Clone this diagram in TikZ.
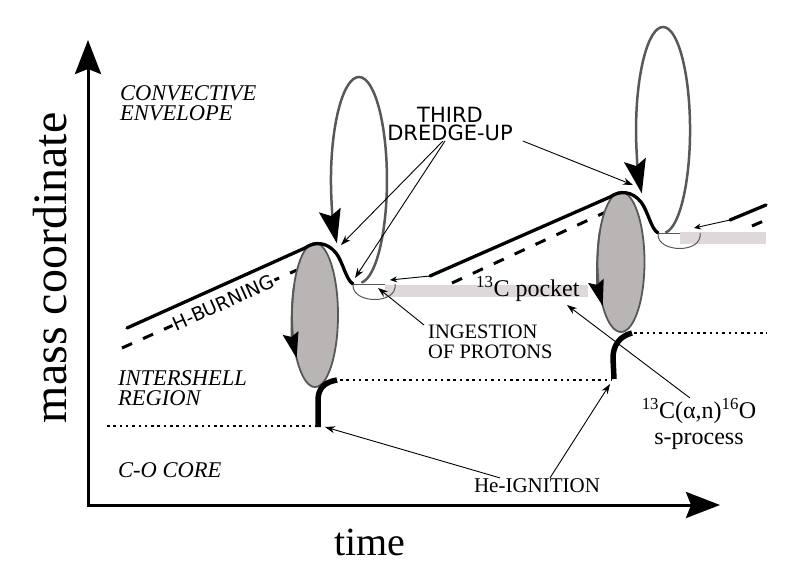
\documentclass[tikz,border=0pt]{standalone}
\usepackage{fontspec}
\setmainfont{Liberation Serif}
\newfontfamily\sansfont{DejaVu Sans}
\usetikzlibrary{arrows.meta}

\definecolor{loopgray}{RGB}{88,88,88}
\definecolor{pulsefill}{RGB}{186,181,181}
\definecolor{pocketgray}{RGB}{222,216,216}

\begin{document}
\begin{tikzpicture}[
    x=1pt, y=-1pt,
    axis/.style={line width=3pt, {Stealth[length=34pt,width=26pt,inset=5pt]}-{Stealth[length=34pt,width=26pt,inset=5pt]}},
    region/.style={font=\fontsize{22.5}{20.5}\selectfont\itshape, align=left, inner sep=0pt, anchor=north west},
    lbl/.style={font=\fontsize{21}{20}\selectfont, inner sep=0pt},
    sanslbl/.style={font=\sansfont\fontsize{21}{18}\selectfont, align=center, inner sep=0pt},
    shell/.style={line width=3.3pt, line cap=round, line join=round},
    hdash/.style={line width=3pt, dash pattern=on 11pt off 12pt},
    hedot/.style={line width=2.5pt, dash pattern=on 2.5pt off 3.8pt},
    ignite/.style={line width=5.5pt},
    pulse/.style={draw=loopgray, line width=1.8pt, fill=pulsefill},
    pulsearr/.style={draw=loopgray, line width=1.8pt, -{Stealth[length=26pt,width=16pt,inset=4pt,color=black]}},
    conv/.style={draw=loopgray, line width=2.5pt, -{Stealth[length=34pt,width=22pt,inset=6pt,color=black]}},
    mixloop/.style={draw=loopgray, line width=1pt},
    pointer/.style={line width=0.9pt, -{Stealth[length=10pt,width=7pt]}},
    pocket/.style={fill=pocketgray, draw=none}
]
\useasboundingbox (0,0) rectangle (793,564);

% ---- axes ----
\coordinate (ytip) at (88,40);
\coordinate (xtip) at (720,505);
\draw[axis] (ytip) |- (xtip);
\node[font=\fontsize{48}{48}\selectfont, rotate=90, anchor=base] (mass) at (66,268) {mass coordinate};
\node[font=\fontsize{40}{40}\selectfont, anchor=base] (time) at (370,555) {time};

% ---- regions of the star ----
\node[region] (envelope) at (120,85) {CONVECTIVE\\ENVELOPE};
\node[region] (intershell) at (118,370) {INTERSHELL\\REGION};
\node[region] (core) at (118,462) {C-O CORE};

% ---- 13C pockets ----
\fill[pocket] (385,285) rectangle (588,297);
\fill[pocket] (680,232) rectangle (766,244);

% ---- He shell (dotted) and H shell (dashed) ----
\draw[hedot] (107,426) -- (316,426);
\draw[hedot] (340,380) -- (612,380);
\draw[hedot] (634,333) -- (767,333);

\draw[hdash] (122,348) -- node[pos=0.58, sloped, fill=white, inner sep=1pt,
    font=\sansfont\fontsize{19}{19}\selectfont] (hburn) {H-BURNING} (297,270);
\draw[hdash] (452,283) -- (608,211);
\draw[hdash] (752,226) -- (766,220);

% ---- thermal pulses ----
\draw[pulse] (315,315) ellipse [x radius=23, y radius=72];
\draw[pulse] (621,262) ellipse [x radius=23.5, y radius=70];
\draw[pulsearr] (294.2,284.6) arc[start angle=205, end angle=143, x radius=23, y radius=72];
\draw[pulsearr] (599.7,232.4) arc[start angle=205, end angle=141, x radius=23.5, y radius=70];

% He ignition
\draw[ignite] (318,427) -- (318,400) .. controls (318,388) and (325,382) .. (337,380);
\draw[ignite] (614,379) -- (613,358) .. controls (613,345) and (620,336) .. (632,333);

% H-burning shell over the pulses
\draw[shell] (127,328) -- (305,248) .. controls (315,241) and (327,242) .. (336,253)
    .. controls (343,262) and (346,280) .. (353,284);
\draw[shell] (430,276) -- (610,197) .. controls (620,190) and (632,191) .. (641,202)
    .. controls (648,211) and (651,229) .. (658,233);
\draw[shell] (730,220) -- (766,205);

% proton mixing
\draw[mixloop] (353,285) .. controls (352,304) and (398,305) .. (395,284);
\draw[mixloop] (353,285) -- (385,285);
\draw[line width=0.9pt, -{Stealth[length=7pt,width=6pt]}] (430,276) -- (390,280);
\draw[mixloop] (658,234) .. controls (657,253) and (703,254) .. (700,233);
\draw[mixloop] (658,234) -- (680,234);
\draw[line width=0.9pt, -{Stealth[length=7pt,width=6pt]}] (730,220) -- (694,228);

% convective envelope
\draw[conv] (361.4,282.6) arc[start angle=85, end angle=-218, x radius=28, y radius=103];
\draw[conv] (665.4,232.6) arc[start angle=85, end angle=-218, x radius=27, y radius=103];

% ---- labels and pointers ----
\coordinate (tdu-a) at (341,245);
\coordinate (tdu-b) at (355,278);
\coordinate (tdu-c) at (633,185);
\coordinate (ingest-tip) at (378,288);
\coordinate (pocket-tip) at (567,305);
\coordinate (ign-a) at (325,427);
\coordinate (ign-b) at (610,384);

\node[sanslbl, anchor=north] (tdu) at (450,107) {THIRD\\DREDGE-UP};
\draw[pointer] ([xshift=-7pt]tdu.south) -- (tdu-a);
\draw[pointer] ([xshift=-5pt]tdu.south) -- (tdu-b);
\draw[pointer] ([xshift=10pt]tdu.south east) -- (tdu-c);

\node[lbl, font=\fontsize{20.5}{20}\selectfont, align=left, anchor=north west] (ingest) at (428,325) {INGESTION\\OF PROTONS};
\draw[pointer] ([xshift=-4pt]ingest.north west) -- (ingest-tip);

\node[lbl, font=\fontsize{24}{24}\selectfont, anchor=base west] (pocket) at (476,297) {\textsuperscript{13}C pocket};

\node[lbl, font=\fontsize{24}{26}\selectfont, align=center, anchor=north] (cano) at (699,398)
    {\textsuperscript{13}C(α,n)\textsuperscript{16}O\\s-process};
\draw[pointer] ([xshift=-9pt]cano.north) -- (pocket-tip);

\node[lbl, anchor=base] (he) at (537,492) {He-IGNITION};
\draw[pointer] ([xshift=-37pt]he.north) -- (ign-a);
\draw[pointer] ([xshift=13pt]he.north) -- (ign-b);

\end{tikzpicture}
\end{document}
